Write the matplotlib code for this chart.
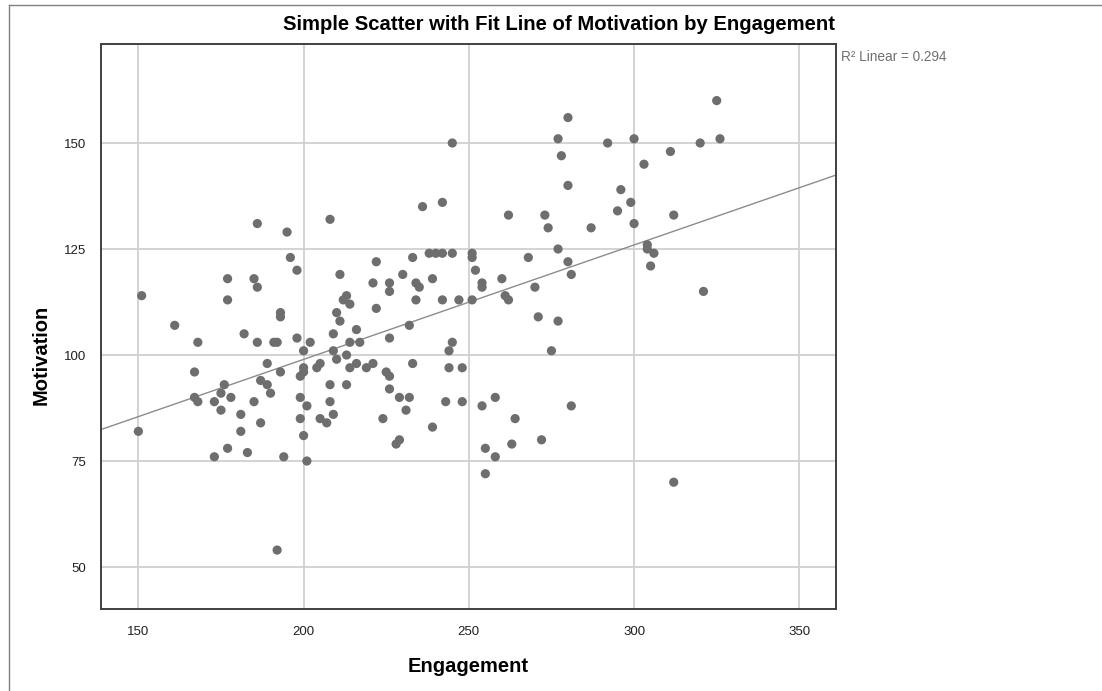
import numpy as np
import matplotlib
matplotlib.use("Agg")
import matplotlib.pyplot as plt
from matplotlib.lines import Line2D

plt.rcParams['font.family'] = ['Liberation Sans', 'DejaVu Sans']

engagement = [
    245, 186, 195, 208, 236, 242, 196, 198, 222, 233, 238, 240, 242, 245, 211, 230,
    177, 185, 221, 226, 234, 239, 226, 235, 186, 177, 212, 213, 214, 234, 242, 247,
    251, 222, 210, 211, 193, 193, 216, 232, 209, 182, 161, 151, 168, 186, 191, 192,
    198, 202, 200, 214, 217, 226, 245, 244, 209, 210, 213,
    167, 189, 193, 200, 200, 199, 176, 175, 167, 168, 178, 173, 175, 187, 189, 190,
    185, 199, 201, 181, 187, 199, 181, 200, 177, 183, 173, 194, 201, 150, 204, 205,
    214, 216, 219, 221, 225, 226, 233, 244, 248, 208, 213, 226, 208, 229, 232, 243,
    248, 205, 207, 209, 231, 224, 239, 229, 228, 192,
    325, 280, 277, 292, 300, 320, 326, 278, 311, 303, 280, 296, 299, 295, 262, 273,
    312, 274, 287, 300, 277, 304, 304, 306, 251, 251, 252, 268, 280, 281, 305, 254,
    254, 260, 270, 261, 262, 271, 277, 275, 254, 258, 281, 264, 255, 258, 263, 272,
    255, 321, 312,
]
motivation = [
    150, 131, 129, 132, 135, 136, 123, 120, 122, 123, 124, 124, 124, 124, 119, 119,
    118, 118, 117, 117, 117, 118, 115, 116, 116, 113, 113, 114, 112, 113, 113, 113,
    113, 111, 110, 108, 110, 109, 106, 107, 105, 105, 107, 114, 103, 103, 103, 103,
    104, 103, 101, 103, 103, 104, 103, 101, 101, 99, 100,
    96, 98, 96, 97, 96, 95, 93, 91, 90, 89, 90, 89, 87, 94, 93, 91,
    89, 90, 88, 86, 84, 85, 82, 81, 78, 77, 76, 76, 75, 82, 97, 98,
    97, 98, 97, 98, 96, 95, 98, 97, 97, 93, 93, 92, 89, 90, 90, 89,
    89, 85, 84, 86, 87, 85, 83, 80, 79, 54,
    160, 156, 151, 150, 151, 150, 151, 147, 148, 145, 140, 139, 136, 134, 133, 133,
    133, 130, 130, 131, 125, 126, 125, 124, 124, 123, 120, 123, 122, 119, 121, 117,
    116, 118, 116, 114, 113, 109, 108, 101, 88, 90, 88, 85, 78, 76, 79, 80,
    72, 115, 70,
]
x_ticks = [150, 200, 250, 300, 350]
y_ticks = [50, 75, 100, 125, 150]
title = "Simple Scatter with Fit Line of Motivation by Engagement"
x_label = "Engagement"
y_label = "Motivation"
r2_label = "R\u00b2 Linear = 0.294"

x = np.array(engagement, dtype=float)
y = np.array(motivation, dtype=float)
slope, intercept = np.polyfit(x, y, 1)

W, H = 1102, 691
fig = plt.figure(figsize=(W / 100, H / 100), dpi=100)
ax = fig.add_axes([101 / W, 1 - 609 / H, 735 / W, 565 / H])

xlim = (138.7, 361.1)
ylim = (40.1, 173.35)
ax.set_xlim(*xlim)
ax.set_ylim(*ylim)
ax.set_xticks(x_ticks)
ax.set_yticks(y_ticks)
ax.grid(True, color='#d0d0d0', linewidth=1.3)
ax.set_axisbelow(True)
ax.tick_params(length=0, labelsize=9.5, colors='#202020')
ax.tick_params(axis='x', pad=12)
ax.tick_params(axis='y', pad=11)
for s in ax.spines.values():
    s.set_color('#404040')
    s.set_linewidth(1.4)

ax.scatter(x, y, s=44, color='#6e6e6e', edgecolors='none', zorder=3)
xx = np.array(xlim)
ax.plot(xx, intercept + slope * xx, color='#8c8c8c', linewidth=1.0, zorder=2)

fig.text(468.5 / W, 1 - 667 / H, x_label, ha='center', va='center',
         fontsize=14.5, fontweight='bold')
fig.text(41 / W, 1 - 355 / H, y_label, ha='center', va='center', rotation=90,
         fontsize=14.5, fontweight='bold')

fig.text(559 / W, 1 - 25 / H, title, ha='center', va='center',
         fontsize=14.6, fontweight='bold')
fig.text(841 / W, 1 - 57 / H, r2_label, ha='left', va='center', fontsize=9.8, color='#707070')

fig.add_artist(Line2D([9 / W, 9 / W], [0, 1 - 5 / H], color='#808080', linewidth=1.0))
fig.add_artist(Line2D([9 / W, 1], [1 - 5 / H, 1 - 5 / H], color='#808080', linewidth=1.0))

fig.savefig("out.png", dpi=100)
